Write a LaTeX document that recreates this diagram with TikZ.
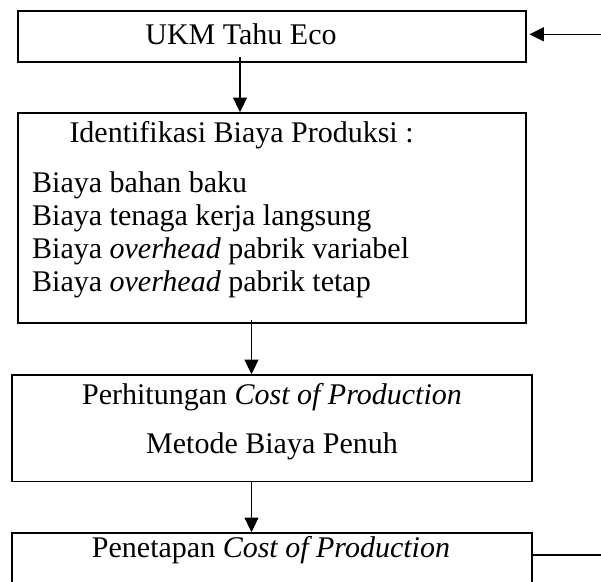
\documentclass[tikz,border=0pt]{standalone}
\usepackage{fontspec}
\setmainfont{Liberation Serif}
\usetikzlibrary{fit, arrows.meta}

\begin{document}
\begin{tikzpicture}[x = 0.4pt, y = -0.4pt,
    box/.style = { draw, line width = 0.7pt, inner sep = 0pt },
    txt/.style = { inner sep = 0pt, font = \fontsize{12pt}{14pt}\selectfont },
    arr/.style = { line width = 0.45pt, -{Triangle[length = 5.8pt, width = 5.6pt]} }]
    \clip (0,0) rectangle (601,581);
    % boxes
    \node [box, fit = {(17.7,11) (526,61.7)}] (ukm) {};
    \node [box, fit = {(17.7,113) (526,323.3)}] (ident) {};
    \node [box, fit = {(12,375) (532,481.5)}] (hitung) {};
    \node [box, fit = {(12,533) (532,640)}] (tetap) {};
    % texts
    \node [txt, anchor = base] (tukm) at (241,44) { UKM Tahu Eco };
    \node [txt, anchor = base west] (thead) at (69,142) { Identifikasi Biaya Produksi : };
    \node [txt, anchor = base west] (tbb) at (31.7,192) { Biaya bahan baku };
    \node [txt, anchor = base west] (ttk) at (31.7,225) { Biaya tenaga kerja langsung };
    \node [txt, anchor = base west] (tov) at (31.7,258) { Biaya \textit{overhead} pabrik variabel };
    \node [txt, anchor = base west] (tot) at (31.7,291) { Biaya \textit{overhead} pabrik tetap };
    \node [txt, anchor = base] (tper) at (272,404) { Perhitungan \textit{Cost of Production} };
    \node [txt, anchor = base] (tmet) at (272,453) { Metode Biaya Penuh };
    \node [txt, anchor = base] (tpen) at (271,557) { Penetapan \textit{Cost of Production} };
    % connectors
    \coordinate (c1) at (240,57);
    \coordinate (c2) at (251.5,319.5);
    \coordinate (masuk) at (601,34.3);
    \coordinate (keluar) at (601,555);
    \draw [arr] (c1) -- (ident.north -| c1);
    \draw [arr] (c2) -- (hitung.north -| c2);
    \draw [arr] (hitung.south -| c2) -- (tetap.north -| c2);
    \draw [arr, shorten > = 1pt] (masuk) -- (ukm.east |- masuk);
    \draw [line width = 0.45pt] (tetap.east |- keluar) -- (keluar);
\end{tikzpicture}
\end{document}
